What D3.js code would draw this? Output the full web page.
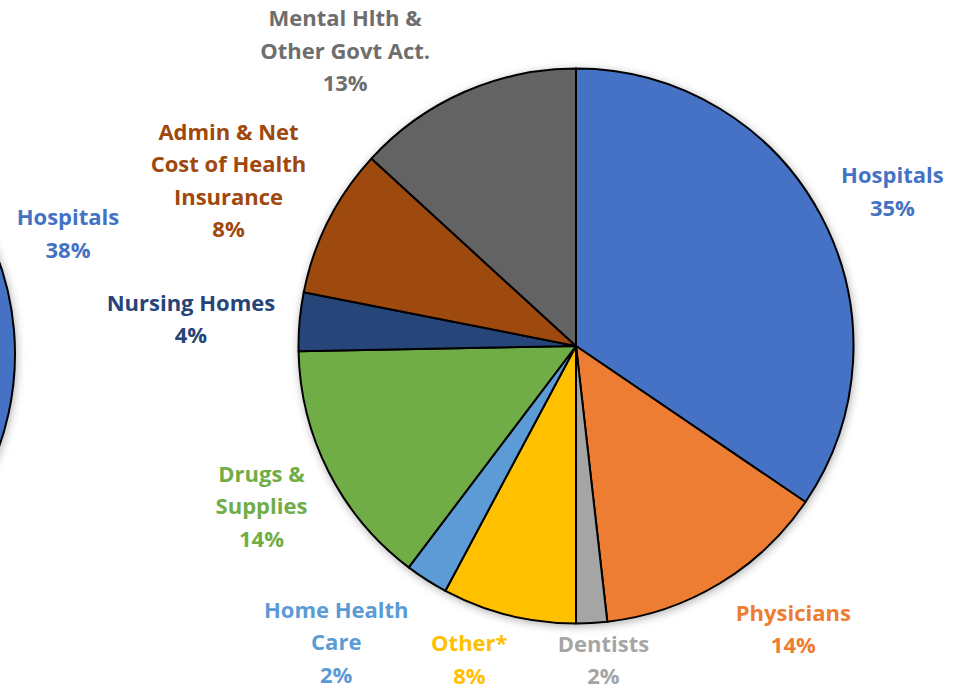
<!DOCTYPE html>
<html lang="en">
<head>
	<meta charset="utf-8"/>
	<title>Health spending pie</title>
	<script src="https://d3js.org/d3.v7.min.js"></script>
	<style>
	  body { margin: 0; background: #fff; }
	  .lbl { font-family: "Open Sans", Lato, sans-serif; font-weight: 700; font-size: 22px; }
	</style>
</head>
<body>
<svg id="chart" width="959" height="689"></svg>
<script>
// slices, clockwise from 12 o'clock
var categories = ["Hospitals", "Physicians", "Dentists", "Other*", "Home Health Care",
	"Drugs & Supplies", "Nursing Homes", "Admin & Net Cost of Health Insurance", "Mental Hlth & Other Govt Act."];
var shares = [34.5, 13.7, 1.8, 7.8, 2.5, 14.4, 3.4, 8.7, 13.2];
var pctLabels = ["35%", "14%", "2%", "8%", "2%", "14%", "4%", "8%", "13%"];
var labelLines = [["Hospitals"], ["Physicians"], ["Dentists"], ["Other*"], ["Home Health", "Care"],
	["Drugs &", "Supplies"], ["Nursing Homes"], ["Admin & Net", "Cost of Health", "Insurance"], ["Mental Hlth &", "Other Govt Act."]];
var colors = ["#4472C4", "#ED7D31", "#A5A5A5", "#FFC000", "#5B9BD5", "#70AD47", "#264478", "#9E480E", "#636363"];
var textColors = ["#4472C4", "#ED7D31", "#A5A5A5", "#FFC000", "#5B9BD5", "#70AD47", "#264478", "#9E480E", "#6E6E6E"];

// the earlier-year pie cut off at the left edge (only its hospital slice shows)
var prevCategories = ["Hospitals"];
var prevShares = [38];
var prevPct = ["38%"];

var svg = d3.select("#chart"),
	width = 959, height = 689;
var cx = 576, cy = 346, r = 277.5;
var lineH = 32.5;

var defs = svg.append("defs");
var f = defs.append("filter").attr("id", "shadow")
	.attr("x", "-10%").attr("y", "-10%").attr("width", "120%").attr("height", "120%");
f.append("feDropShadow").attr("dx", 1).attr("dy", 2).attr("stdDeviation", 4)
	.attr("flood-color", "#000").attr("flood-opacity", 0.3);

var arc = d3.arc().innerRadius(0).outerRadius(r);
var pie = d3.pie().sort(null).value(function(d) { return d; });

// left pie
var gPrev = svg.append("g").attr("transform", "translate(" + (-263) + "," + 354 + ")")
	.attr("filter", "url(#shadow)");
gPrev.selectAll("path")
	.data(d3.pie().sort(null).endAngle(2 * Math.PI * prevShares[0] / 100)(prevShares))
	.enter().append("path")
	.attr("d", d3.arc().innerRadius(0).outerRadius(278))
	.attr("fill", colors[0])
	.attr("stroke", "#000")
	.attr("stroke-width", 2);

svg.append("text").attr("class", "lbl")
	.attr("fill", colors[0]).attr("text-anchor", "middle")
	.selectAll("tspan").data([prevCategories[0], prevPct[0]])
	.enter().append("tspan")
	.attr("x", 68).attr("y", function(d, i) { return 225 + i * lineH; })
	.text(function(d) { return d; });

// main pie
var g = svg.append("g").attr("transform", "translate(" + cx + "," + cy + ")");
var slices = pie(shares);
g.append("g").attr("filter", "url(#shadow)")
	.selectAll("path")
	.data(slices)
	.enter().append("path")
	.attr("d", arc)
	.attr("fill", function(d, i) { return colors[i]; })
	.attr("stroke", "#000")
	.attr("stroke-width", 2)
	.attr("stroke-linejoin", "round");

// label anchors: polar offset from the pie centre (angle in degrees, radius in px)
var labelPolar = [[64, 352], [142.5, 357], [175, 315], [198.8, 331], [219, 381],
	[243, 353], [274, 386], [295.5, 385], [322, 375]];

slices.forEach(function(d, i) {
	var lines = labelLines[i].concat([pctLabels[i]]);
	var a = labelPolar[i][0] * Math.PI / 180, rr = labelPolar[i][1];
	var lx = Math.sin(a) * rr, ly = -Math.cos(a) * rr;
	var top = ly - (lines.length - 1) * lineH / 2 + 8;
	g.append("text").attr("class", "lbl")
		.attr("fill", textColors[i])
		.attr("text-anchor", "middle")
		.selectAll("tspan").data(lines)
		.enter().append("tspan")
		.attr("x", lx)
		.attr("y", function(t, j) { return top + j * lineH; })
		.text(function(t) { return t; });
});
</script>
</body>
</html>
